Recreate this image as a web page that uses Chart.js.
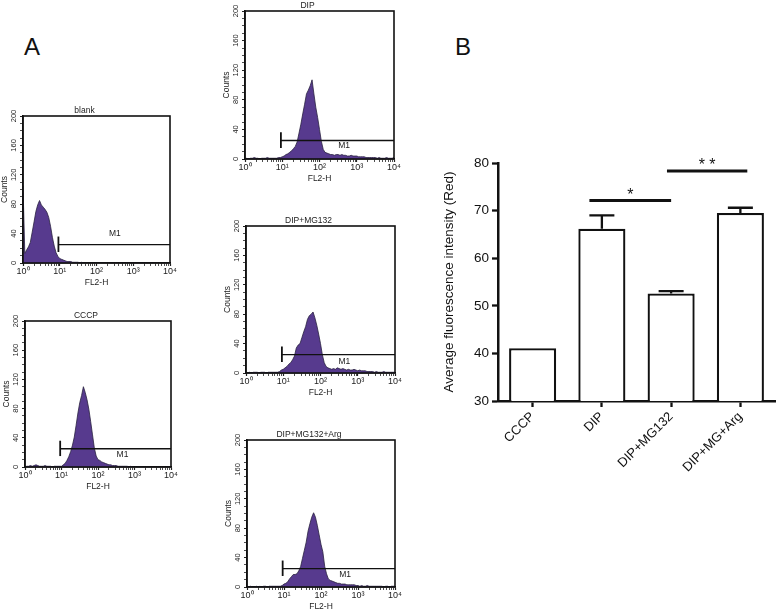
<!DOCTYPE html>
<html>
<head>
<meta charset="utf-8">
<script src="https://cdn.jsdelivr.net/npm/chart.js@4.4.1/dist/chart.umd.min.js"></script>
<style>
  body { margin: 0; background: #fff; }
  #fig { position: relative; width: 779px; height: 610px; overflow: hidden; font-family: "Liberation Sans", Arial, sans-serif; }
  #fig canvas { position: absolute; }
  .panel-letter { position: absolute; font-size: 24px; line-height: 1; color: #111; }
</style>
</head>
<body>
<div id="fig">
  <div class="panel-letter" style="left:24px; top:35px;">A</div>
  <div class="panel-letter" style="left:455px; top:35px;">B</div>
  <canvas id="hist_blank"></canvas>
  <canvas id="hist_cccp"></canvas>
  <canvas id="hist_dip"></canvas>
  <canvas id="hist_dip_mg132"></canvas>
  <canvas id="hist_dip_mg132_arg"></canvas>
  <canvas id="bar_chart"></canvas>
</div>
<script>
// ---- flow cytometry histograms (FL2-H, log scale) ----
const fl2Channels = [1, 1.12, 1.26, 1.41, 1.58, 1.78, 2, 2.24, 2.51, 2.82,
  3.16, 3.55, 3.98, 4.47, 5.01, 5.62, 6.31, 7.08, 7.94, 8.91,
  10, 11.2, 12.6, 14.1, 15.8, 17.8, 20, 22.4, 25.1, 28.2,
  31.6, 35.5, 39.8, 44.7, 50.1, 56.2, 63.1, 70.8, 79.4, 89.1,
  100, 112, 126, 141, 158, 178, 200, 224, 251, 282,
  316, 355, 398, 447, 501, 562, 631, 708, 794, 891,
  1000, 1122, 1259, 1413, 1585, 1778, 1995, 2239, 2512, 2818,
  3162, 3548, 3981, 4467, 5012, 5623, 6310, 7079, 7943, 8913,
  10000];

const blankCounts = [105, 13, 18, 22, 28, 42, 56, 70, 79, 85,
  79, 76, 73, 69, 62, 50, 35, 23, 14, 9,
  6, 5, 4, 3, 2, 2, 2, 1, 1, 1,
  1, 0, 1, 0, 0, 0, 0, 0, 0, 0,
  0, 0, 0, 0, 0, 0, 0, 0, 0, 0,
  0, 0, 0, 0, 0, 0, 0, 0, 0, 0,
  0, 0, 0, 0, 0, 0, 0, 0, 0, 0,
  0, 0, 0, 0, 0, 0, 0, 0, 0, 0,
  0];

const cccpCounts = [0, 1, 1, 2, 1, 2, 3, 2, 1, 1,
  1, 2, 1, 1, 1, 0, 1, 1, 1, 1,
  1, 3, 5, 9, 14, 21, 30, 41, 57, 74,
  88, 98, 110, 102, 92, 79, 62, 44, 26, 15,
  10, 9, 7, 6, 5, 4, 3, 3, 2, 2,
  2, 1, 1, 1, 1, 1, 1, 0, 1, 0,
  0, 0, 0, 0, 0, 0, 0, 0, 0, 0,
  0, 0, 0, 0, 0, 0, 0, 0, 0, 0,
  0];

const dipCounts = [0, 1, 0, 1, 1, 2, 1, 1, 0, 1,
  1, 1, 2, 1, 1, 1, 1, 1, 2, 2,
  3, 4, 6, 7, 9, 11, 14, 17, 23, 35,
  47, 61, 74, 88, 93, 99, 107, 88, 70, 56,
  40, 24, 13, 9, 8, 7, 6, 6, 5, 6,
  6, 5, 6, 5, 5, 4, 4, 5, 4, 4,
  4, 3, 3, 3, 3, 2, 2, 2, 2, 2,
  2, 1, 2, 1, 1, 1, 2, 1, 1, 1,
  2];

const dipMg132Counts = [0, 0, 1, 0, 1, 1, 1, 0, 1, 1,
  1, 0, 1, 1, 1, 1, 1, 1, 2, 4,
  5, 7, 9, 12, 14, 18, 23, 34, 38, 40,
  48, 56, 63, 73, 78, 80, 83, 75, 65, 53,
  40, 25, 14, 9, 7, 6, 5, 6, 5, 7,
  6, 5, 6, 5, 4, 5, 4, 4, 5, 4,
  3, 4, 3, 3, 3, 2, 2, 2, 2, 1,
  2, 1, 1, 1, 2, 1, 1, 1, 1, 1,
  1];

const dipMg132ArgCounts = [0, 0, 1, 0, 0, 1, 0, 1, 0, 1,
  1, 0, 1, 1, 1, 1, 1, 1, 1, 2,
  4, 5, 7, 11, 14, 17, 17, 18, 22, 28,
  39, 50, 61, 76, 86, 95, 101, 95, 84, 71,
  58, 48, 28, 18, 11, 9, 8, 7, 6, 5,
  5, 4, 4, 4, 3, 3, 3, 3, 3, 2,
  2, 1, 2, 1, 1, 2, 1, 1, 1, 1,
  1, 1, 1, 1, 0, 1, 1, 0, 1, 1,
  1];

// M1 gate marker
const gateStart = 9.2;
const gateLevel = 25;
const gateLow = 15;
const gateHigh = 36;

// ---- bar chart (panel B) ----
const barLabels = ['CCCP', 'DIP', 'DIP+MG132', 'DIP+MG+Arg'];
const barMeans = [41.1, 66.2, 52.6, 69.5];
const barErrors = [0, 2.8, 0.5, 1.1];
const sigFrom = [0.82, 1.94];
const sigTo = [2.0, 3.1];
const sigLevel = [72.1, 78.3];
const sigText = ['*', '* *'];

Chart.defaults.font.family = '"Liberation Sans", Arial, sans-serif';

const histFill = '#573a8e';
const supDigits = ['\u2070', '\u00B9', '\u00B2', '\u00B3', '\u2074'];
const hYW = 24, hPadR = 8, hTitleH = 10, hXH = 27;

var panels = [
  {id: 'hist_blank', title: 'blank', counts: blankCounts, plot: {x: 23, y: 116, w: 147, h: 147}, m1: {x: 316, y: 40}},
  {id: 'hist_cccp', title: 'CCCP', counts: cccpCounts, plot: {x: 25, y: 321, w: 146, h: 146}, m1: {x: 468, y: 16.5}},
  {id: 'hist_dip', title: 'DIP', counts: dipCounts, plot: {x: 245, y: 11, w: 149, h: 148}, m1: {x: 457, y: 18}},
  {id: 'hist_dip_mg132', title: 'DIP+MG132', counts: dipMg132Counts, plot: {x: 246, y: 226, w: 149, h: 147}, m1: {x: 437, y: 16}},
  {id: 'hist_dip_mg132_arg', title: 'DIP+MG132+Arg', counts: dipMg132ArgCounts, plot: {x: 247, y: 440, w: 148, h: 147}, m1: {x: 447, y: 17}}
];

function makeHistogram(p) {
  var canvas = document.getElementById(p.id);
  canvas.width = hYW + p.plot.w + hPadR;
  canvas.height = hTitleH + p.plot.h + hXH;
  canvas.style.left = (p.plot.x - hYW) + 'px';
  canvas.style.top = (p.plot.y - hTitleH) + 'px';

  // box round the plot + M1 text
  var framePlugin = {
    id: 'frameBox',
    afterDatasetsDraw: function(chart) {
      var ctx = chart.ctx, a = chart.chartArea;
      ctx.save();
      ctx.strokeStyle = '#111';
      ctx.lineWidth = 1.6;
      ctx.strokeRect(a.left, a.top, a.right - a.left, a.bottom - a.top);
      ctx.fillStyle = '#222';
      ctx.font = '8.5px "Liberation Sans", Arial, sans-serif';
      ctx.textAlign = 'center';
      ctx.textBaseline = 'middle';
      ctx.fillText('M1', chart.scales.x.getPixelForValue(p.m1.x), chart.scales.y.getPixelForValue(p.m1.y));
      ctx.restore();
    }
  };

  return new Chart(canvas.getContext('2d'), {
    type: 'line',
    data: {
      datasets: [
        {
          label: 'M1',
          data: [{x: gateStart, y: gateLevel}, {x: 10000, y: gateLevel}],
          borderColor: '#111', borderWidth: 1.3, pointRadius: 0, fill: false, order: 0
        },
        {
          label: 'M1 start',
          data: [{x: gateStart, y: gateLow}, {x: gateStart, y: gateHigh}],
          borderColor: '#111', borderWidth: 1.8, pointRadius: 0, fill: false, order: 0
        },
        {
          label: p.title,
          data: fl2Channels.map(function(c, i) { return {x: c, y: p.counts[i]}; }),
          borderColor: '#2a2240', borderWidth: 0.8, backgroundColor: histFill,
          fill: 'origin', pointRadius: 0, tension: 0, order: 1
        }
      ]
    },
    options: {
      responsive: false,
      animation: false,
      events: [],
      layout: {padding: {left: 0, right: hPadR, top: 0, bottom: 0}},
      plugins: {
        legend: {display: false},
        tooltip: {enabled: false},
        title: {
          display: true, text: p.title, color: '#222',
          font: {size: 8.5, weight: 'normal', lineHeight: 1},
          padding: {top: 0, bottom: 1.5}
        }
      },
      scales: {
        x: {
          type: 'logarithmic', min: 1, max: 10000,
          afterBuildTicks: function(scale) {
            scale.ticks = scale.ticks.filter(function(t) {
              var s = t.value / Math.pow(10, Math.floor(Math.log10(t.value) + 1e-9));
              return Math.abs(s - Math.round(s)) < 1e-6;
            });
          },
          afterFit: function(scale) { scale.height = hXH; scale.paddingLeft = 0; scale.paddingRight = 0; },
          grid: {drawOnChartArea: false, tickLength: 3, tickColor: '#222',
            tickWidth: function(c) { return c.tick && c.tick.major ? 1.2 : 0.8; }},
          border: {color: '#111', width: 1.6},
          ticks: {
            autoSkip: false, maxRotation: 0, minRotation: 0, padding: 0,
            font: {size: 9}, color: '#222',
            callback: function(v) {
              var e = Math.log10(v);
              return Math.abs(e - Math.round(e)) < 1e-9 ? '10' + supDigits[Math.round(e)] : '';
            }
          },
          title: {display: true, text: 'FL2-H', color: '#222', font: {size: 8.5}, padding: {top: 0, bottom: 2}}
        },
        y: {
          min: 0, max: 200,
          afterFit: function(scale) { scale.width = hYW; scale.paddingTop = 0; scale.paddingBottom = 0; },
          grid: {drawOnChartArea: false, tickLength: 3, tickColor: '#222',
            tickWidth: function(c) { return c.tick && c.tick.value % 40 === 0 ? 1.2 : 0.8; }},
          border: {color: '#111', width: 1.6},
          ticks: {
            stepSize: 10, autoSkip: false, minRotation: 90, maxRotation: 90,
            crossAlign: 'center', padding: 0, font: {size: 7.5}, color: '#222',
            callback: function(v) { return v % 40 === 0 ? v : ''; }
          },
          title: {display: true, text: 'Counts', color: '#222', font: {size: 8.5}, padding: {top: 0.5, bottom: 0}}
        }
      }
    },
    plugins: [framePlugin]
  });
}

document.addEventListener("DOMContentLoaded", function() {
  panels.forEach(makeHistogram);

  // ---- panel B ----
  var barCanvas = document.getElementById('bar_chart');
  barCanvas.width = 339;
  barCanvas.height = 340;
  barCanvas.style.left = '440px';
  barCanvas.style.top = '140px';

  var errorBars = {
    id: 'errorBars',
    afterDatasetsDraw: function(chart) {
      var ctx = chart.ctx, y = chart.scales.y;
      var meta = chart.getDatasetMeta(0);
      ctx.save();
      ctx.strokeStyle = '#111';
      ctx.lineWidth = 2.3;
      meta.data.forEach(function(bar, i) {
        if (!barErrors[i]) return;
        var top = y.getPixelForValue(barMeans[i] + barErrors[i]);
        ctx.beginPath();
        ctx.moveTo(bar.x, bar.y);
        ctx.lineTo(bar.x, top);
        ctx.moveTo(bar.x - 12.5, top);
        ctx.lineTo(bar.x + 12.5, top);
        ctx.stroke();
      });
      ctx.restore();
    }
  };

  var sigMarks = {
    id: 'sigMarks',
    afterDatasetsDraw: function(chart) {
      var ctx = chart.ctx, x = chart.scales.x, y = chart.scales.y;
      ctx.save();
      ctx.strokeStyle = '#111';
      ctx.fillStyle = '#111';
      ctx.lineWidth = 3;
      ctx.font = '16px "Liberation Sans", Arial, sans-serif';
      ctx.textAlign = 'center';
      ctx.textBaseline = 'alphabetic';
      sigLevel.forEach(function(lv, i) {
        var x0 = x.getPixelForValue(sigFrom[i]), x1 = x.getPixelForValue(sigTo[i]);
        var py = y.getPixelForValue(lv);
        ctx.beginPath();
        ctx.moveTo(x0, py);
        ctx.lineTo(x1, py);
        ctx.stroke();
        ctx.fillText(sigText[i], (x0 + x1) / 2, py - 1);
      });
      ctx.restore();
    }
  };

  new Chart(barCanvas.getContext('2d'), {
    type: 'bar',
    data: {
      labels: barLabels,
      datasets: [{
        label: 'Average fluorescence intensity (Red)',
        data: barMeans,
        backgroundColor: '#fff',
        borderColor: '#111',
        borderWidth: 2.3,
        borderSkipped: false,
        barPercentage: 0.68,
        categoryPercentage: 1
      }]
    },
    options: {
      responsive: false,
      animation: false,
      events: [],
      layout: {padding: {left: 0, right: 4, top: 23, bottom: 0}},
      plugins: {legend: {display: false}, tooltip: {enabled: false}},
      scales: {
        x: {
          afterFit: function(scale) { scale.height = 79; scale.paddingLeft = 0; scale.paddingRight = 0; },
          grid: {drawOnChartArea: false, offset: false, tickLength: 6, tickWidth: 2.3, tickColor: '#111'},
          border: {color: '#111', width: 2.5},
          ticks: {minRotation: 45, maxRotation: 45, padding: 2, font: {size: 13}, color: '#111'}
        },
        y: {
          min: 30, max: 80,
          afterFit: function(scale) { scale.width = 58; scale.paddingTop = 0; scale.paddingBottom = 0; },
          grid: {drawOnChartArea: false, tickLength: 6, tickWidth: 2.3, tickColor: '#111'},
          border: {color: '#111', width: 2.5},
          ticks: {stepSize: 10, padding: 3, font: {size: 13.5}, color: '#111'},
          title: {display: true, text: 'Average fluorescence intensity (Red)', color: '#111',
            font: {size: 13.5}, padding: {top: 1, bottom: 0}}
        }
      }
    },
    plugins: [errorBars, sigMarks]
  });
});
</script>
</body>
</html>
